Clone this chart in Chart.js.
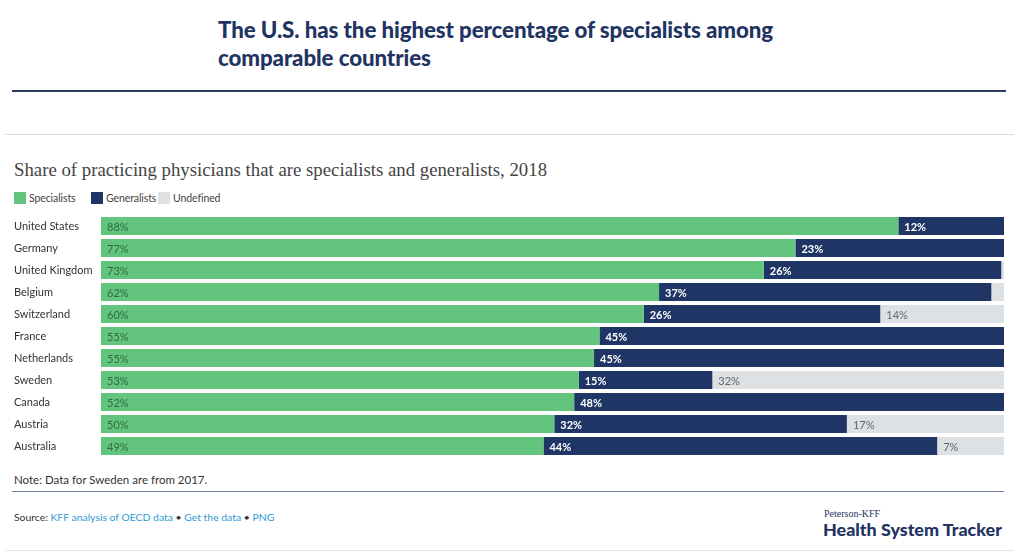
<!DOCTYPE html>
<html>
<head>
<meta charset="utf-8">
<script src="https://cdn.jsdelivr.net/npm/chart.js@4"></script>
<style>
  html, body { margin: 0; padding: 0; background: #fff; }
  body { width: 1023px; height: 557px; position: relative; overflow: hidden; font-family: Lato, 'Open Sans', sans-serif; }
  .title { position: absolute; left: 218px; top: 16px; font: 900 22.3px/28px Lato, sans-serif; color: #1f3462; letter-spacing: -0.1px; }
  .rule { position: absolute; height: 0; }
  .subtitle { position: absolute; left: 14px; top: 159px; font: 400 18.8px 'Liberation Serif', serif; color: #444; }
  .legend { position: absolute; top: 192px; font: 400 10.5px Lato, sans-serif; color: #444; display: flex; align-items: center; letter-spacing: -0.1px; }
  .legend i { display: inline-block; width: 12px; height: 12px; margin-right: 3px; }
  .note { position: absolute; left: 14px; top: 473px; font: 400 11.5px Lato, sans-serif; color: #333; }
  .source { position: absolute; left: 14px; top: 511px; font: 400 10.4px Lato, sans-serif; color: #333; }
  .source a { color: #2e9bd6; text-decoration: none; }
  .logo1 { position: absolute; left: 824px; top: 508px; font: 400 10px 'Liberation Serif', serif; color: #1f3462; }
  .logo2 { position: absolute; left: 823px; top: 518px; font: 900 17.9px Lato, sans-serif; color: #1f3462; }
  #wrap { position: absolute; left: 14px; top: 215px; width: 990px; height: 242px; }
</style>
</head>
<body>
<div class="title">The U.S. has the highest percentage of specialists among<br>comparable countries</div>
<div class="rule" style="left:12px;top:90px;width:994px;border-top:2px solid #2b3b63;"></div>
<div class="rule" style="left:5px;top:134px;width:1009px;border-top:1px solid #dcdcdc;"></div>
<div class="subtitle">Share of practicing physicians that are specialists and generalists, 2018</div>
<div class="legend" style="left:14px"><i style="background:#63c47e"></i>Specialists</div>
<div class="legend" style="left:91px"><i style="background:#1f3566"></i>Generalists</div>
<div class="legend" style="left:158px"><i style="background:#dde1e3"></i>Undefined</div>
<div id="wrap"><canvas id="chart"></canvas></div>
<div class="note">Note: Data for Sweden are from 2017.</div>
<div class="rule" style="left:12px;top:491px;width:992px;border-top:1px solid #6f7f9f;"></div>
<div class="source">Source: <a>KFF analysis of OECD data</a> &bull; <a>Get the data</a> &bull; <a>PNG</a></div>
<div class="logo1">Peterson-KFF</div>
<div class="logo2">Health System Tracker</div>
<div class="rule" style="left:5px;top:550px;width:1009px;border-top:1px solid #e4e4e4;"></div>

<script>
const countries   = ['United States', 'Germany', 'United Kingdom', 'Belgium', 'Switzerland', 'France',
                     'Netherlands', 'Sweden', 'Canada', 'Austria', 'Australia'];
const specialists = [88.3, 76.9, 73.4, 61.8, 60.1, 55.2, 54.6, 52.9, 52.4, 50.2, 49.0];
const generalists = [11.7, 23.1, 26.3, 36.8, 26.2, 44.8, 45.4, 14.8, 47.6, 32.4, 43.6];
const undefinedSh = [0,    0,    0.3,  1.4,  13.7, 0,    0,    32.3, 0,    17.4, 7.4];

// labels drawn inside each segment, left aligned
const segLabels = {
  id: 'segLabels',
  afterDatasetsDraw(chart) {
    const ctx = chart.ctx;
    ctx.save();
    ctx.textBaseline = 'middle';
    ctx.textAlign = 'left';
    chart.data.datasets.forEach((ds, di) => {
      chart.getDatasetMeta(di).data.forEach((bar, i) => {
        const v = ds.data[i];
        if (v < 3) return;
        ctx.font = ds.labelFont;
        ctx.fillStyle = ds.labelColor;
        ctx.fillText(Math.round(v) + '%', bar.base + 6, bar.y + 1);
      });
    });
    ctx.restore();
  }
};

new Chart(document.getElementById('chart'), {
  type: 'bar',
  data: {
    labels: countries,
    datasets: [
      { label: 'Specialists', data: specialists, backgroundColor: '#63c47e',
        labelColor: '#2f6b43', labelFont: '400 11px Lato, sans-serif' },
      { label: 'Generalists', data: generalists, backgroundColor: '#1f3566',
        labelColor: '#ffffff', labelFont: '700 11px Lato, sans-serif' },
      { label: 'Undefined', data: undefinedSh, backgroundColor: '#dde1e3',
        labelColor: '#666666', labelFont: '400 11px Lato, sans-serif' }
    ]
  },
  options: {
    indexAxis: 'y',
    responsive: true,
    maintainAspectRatio: false,
    animation: false,
    layout: { padding: 0 },
    datasets: { bar: { categoryPercentage: 1, barPercentage: 0.82, borderWidth: 0 } },
    plugins: { legend: { display: false }, tooltip: { enabled: false } },
    scales: {
      x: { stacked: true, min: 0, max: 100, display: false },
      y: {
        stacked: true,
        grid: { display: false },
        border: { display: false },
        afterFit: s => { s.width = 87; s.paddingTop = 0; s.paddingBottom = 0; },
        ticks: {
          crossAlign: 'far',
          padding: 0,
          color: '#333',
          font: { family: 'Lato, sans-serif', size: 11 }
        }
      }
    }
  },
  plugins: [segLabels]
});
</script>
</body>
</html>
